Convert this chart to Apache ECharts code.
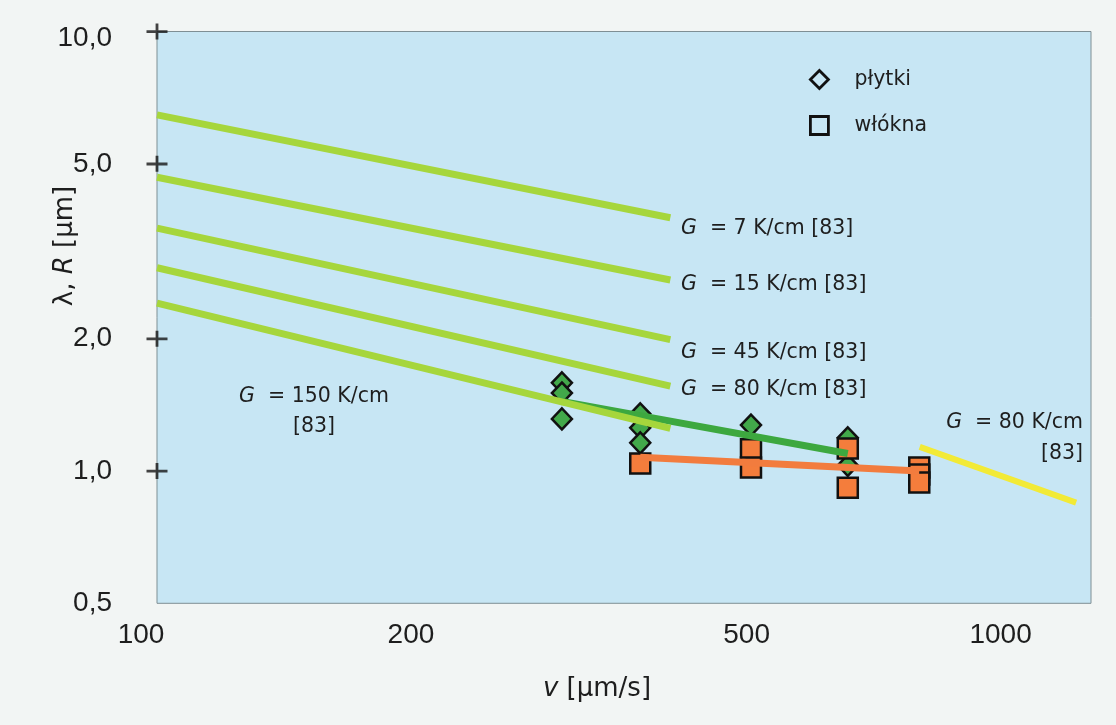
<!DOCTYPE html>
<html>
<head>
<meta charset="utf-8">
<script src="https://cdn.jsdelivr.net/npm/echarts@6/dist/echarts.min.js"></script>
<style>
html,body{margin:0;padding:0;background:#f2f5f4;}
#c{width:1116px;height:725px;}
</style>
</head>
<body>
<div id="c"></div>
<script>
// axis extents and tick labels
const xMin = 100, xMax = 1280;
const yMin = 0.5, yMax = 10;
const xTickValues = [100, 200, 500, 1000];
const yTickValues = [0.5, 1, 2, 5, 10];
const yCrossTicks = [1, 2, 5, 10];

// literature lines [83]: v range and lambda values
const litV = [100, 406];
const g7 = [6.46, 3.77];
const g15 = [4.66, 2.72];
const g45 = [3.57, 1.99];
const g80 = [2.90, 1.56];
const g150 = [2.41, 1.25];
const g80hV = [802, 1229];
const g80h = [1.135, 0.847];

// fitted lines
const plytkiFitV = [302, 659];
const plytkiFit = [1.44, 1.096];
const wloknaFitV = [374, 801];
const wloknaFit = [1.075, 1.0];

// measured points
const plytkiV = [302, 302, 302, 374, 374, 374, 506, 659, 659];
const plytkiR = [1.587, 1.505, 1.314, 1.349, 1.254, 1.159, 1.272, 1.19, 1.03];
const wloknaV = [374, 506, 506, 659, 659, 801, 801, 801];
const wloknaR = [1.04, 1.12, 1.018, 1.125, 0.916, 1.018, 0.982, 0.942];

const seriesNames = ['płytki', 'włókna'];

const pair = (xs, ys) => xs.map((x, i) => [x, ys[i]]);
const fmtY = v => {
  const s = Number(v).toFixed(1).replace('.', ',');
  return Number(v) === 10 ? '{t|' + s + '}' : s;
};

const TXT = '#1e1e1e';
const AF = 'DejaVu Sans';
const AS = 20.5;
const italic = {fontStyle: 'italic', fontSize: AS, fontFamily: AF, fill: TXT};
const plain = {fontSize: AS, fontFamily: AF, fill: TXT};

function lit(data, color, width) {
  return {
    type: 'line', data: data, symbol: 'none', showSymbol: false, silent: true, z: 3,
    lineStyle: {color: color, width: width, cap: 'butt'}
  };
}

function label(x, y, text, align, lh) {
  return {
    type: 'text', x: x, y: y, silent: true, z: 10,
    style: {
      text: text, fontSize: AS, fontFamily: AF, fill: TXT, align: align || 'left',
      verticalAlign: 'middle', lineHeight: lh || 24,
      rich: {i: Object.assign({lineHeight: lh || 24}, italic), n: Object.assign({lineHeight: lh || 24}, plain)}
    }
  };
}

const chart = echarts.init(document.getElementById('c'));
chart.setOption({
  backgroundColor: '#f2f5f4',
  animation: false,
  grid: {
    left: 157, right: 25, top: 31.5, bottom: 121.7, show: true,
    backgroundColor: '#c7e6f4', borderColor: '#7f8f94', borderWidth: 1
  },
  xAxis: {
    type: 'log', logBase: 10, min: xMin, max: xMax,
    axisLine: {show: false}, axisTick: {show: false}, splitLine: {show: false},
    minorTick: {show: false}, minorSplitLine: {show: false},
    axisLabel: {
      customValues: xTickValues, margin: 18, fontFamily: 'Liberation Sans', fontSize: 28, color: TXT,
      formatter: v => (Number(v) === 100 ? '{l|100}' : String(Math.round(v))),
      rich: {l: {padding: [0, 32, 0, 0], fontFamily: 'Liberation Sans', fontSize: 28, color: TXT}}
    }
  },
  yAxis: {
    type: 'log', logBase: 10, min: yMin, max: yMax,
    axisLine: {show: false}, axisTick: {show: false}, splitLine: {show: false},
    minorTick: {show: false}, minorSplitLine: {show: false},
    axisLabel: {
      customValues: yTickValues, margin: 45, fontFamily: 'Liberation Sans', fontSize: 28, color: TXT,
      formatter: fmtY,
      rich: {t: {padding: [14, 0, 0, 0], fontFamily: 'Liberation Sans', fontSize: 28, color: TXT}}
    }
  },
  legend: {
    left: 804, top: 64, orient: 'vertical', itemWidth: 60, itemHeight: 18, itemGap: 25,
    selectedMode: false, symbolKeepAspect: true,
    textStyle: {fontFamily: AF, fontSize: AS, color: TXT},
    itemStyle: {color: 'transparent', borderColor: '#111', borderWidth: 2.8},
    data: [
      {name: seriesNames[0], icon: 'path://M10,0L20,10L10,20L0,10Z'},
      {name: seriesNames[1], icon: 'path://M0,0H20V20H0Z'}
    ]
  },
  series: [
    {
      name: seriesNames[0], type: 'scatter', data: pair(plytkiV, plytkiR), z: 2,
      symbol: 'diamond', symbolSize: [20, 21],
      itemStyle: {color: '#42a94a', borderColor: '#111', borderWidth: 2.5, opacity: 1}
    },
    {
      name: seriesNames[1], type: 'scatter', data: pair(wloknaV, wloknaR), z: 2,
      symbol: 'rect', symbolSize: 20,
      itemStyle: {color: '#f47d3c', borderColor: '#111', borderWidth: 2.5, opacity: 1}
    },
    lit(pair(plytkiFitV, plytkiFit), '#3da83f', 7),
    lit(pair(wloknaFitV, wloknaFit), '#f27c3e', 7),
    lit(pair(g80hV, g80h), '#f2ea36', 6),
    lit(pair(litV, g7), '#a6d63c', 7),
    lit(pair(litV, g15), '#a6d63c', 7),
    lit(pair(litV, g45), '#a6d63c', 7),
    lit(pair(litV, g80), '#a6d63c', 7),
    lit(pair(litV, g150), '#a6d63c', 7),
    {
      name: 'ticks', type: 'scatter', data: yCrossTicks.map(v => [xTickValues[0], v]),
      symbol: 'path://M0,6.8H21V9.6H0Z M9.1,0H11.9V16H9.1Z', symbolSize: [21, 16],
      itemStyle: {color: '#151515'}, clip: false, silent: true, z: 6
    }
  ],
  graphic: [
    label(681, 229, '{i|G}{n|  = 7 K/cm [83]}'),
    label(681, 285, '{i|G}{n|  = 15 K/cm [83]}'),
    label(681, 353, '{i|G}{n|  = 45 K/cm [83]}'),
    label(681, 390, '{i|G}{n|  = 80 K/cm [83]}'),
    label(314, 411.7, '{i|G}{n|  = 150 K/cm}\n{n|[83]}', 'center', 30),
    label(1083, 438, '{i|G}{n|  = 80 K/cm}\n{n|[83]}', 'right', 30.6),
    {
      type: 'text', x: 597, y: 689, silent: true,
      style: {
        text: '{i|v}{n| [μm/s]}', align: 'center', verticalAlign: 'middle', fill: TXT,
        fontSize: 26, fontFamily: AF,
        rich: {i: {fontStyle: 'italic', fontSize: 26, fontFamily: AF, fill: TXT}, n: {fontSize: 26, fontFamily: AF, fill: TXT}}
      }
    },
    {
      type: 'text', x: 65, y: 246, rotation: Math.PI / 2, silent: true,
      style: {
        text: '{n|λ, }{i|R}{n| [μm]}', align: 'center', verticalAlign: 'middle', fill: TXT,
        fontSize: 26, fontFamily: AF,
        rich: {i: {fontStyle: 'italic', fontSize: 26, fontFamily: AF, fill: TXT}, n: {fontSize: 26, fontFamily: AF, fill: TXT}}
      }
    }
  ]
});
</script>
</body>
</html>
